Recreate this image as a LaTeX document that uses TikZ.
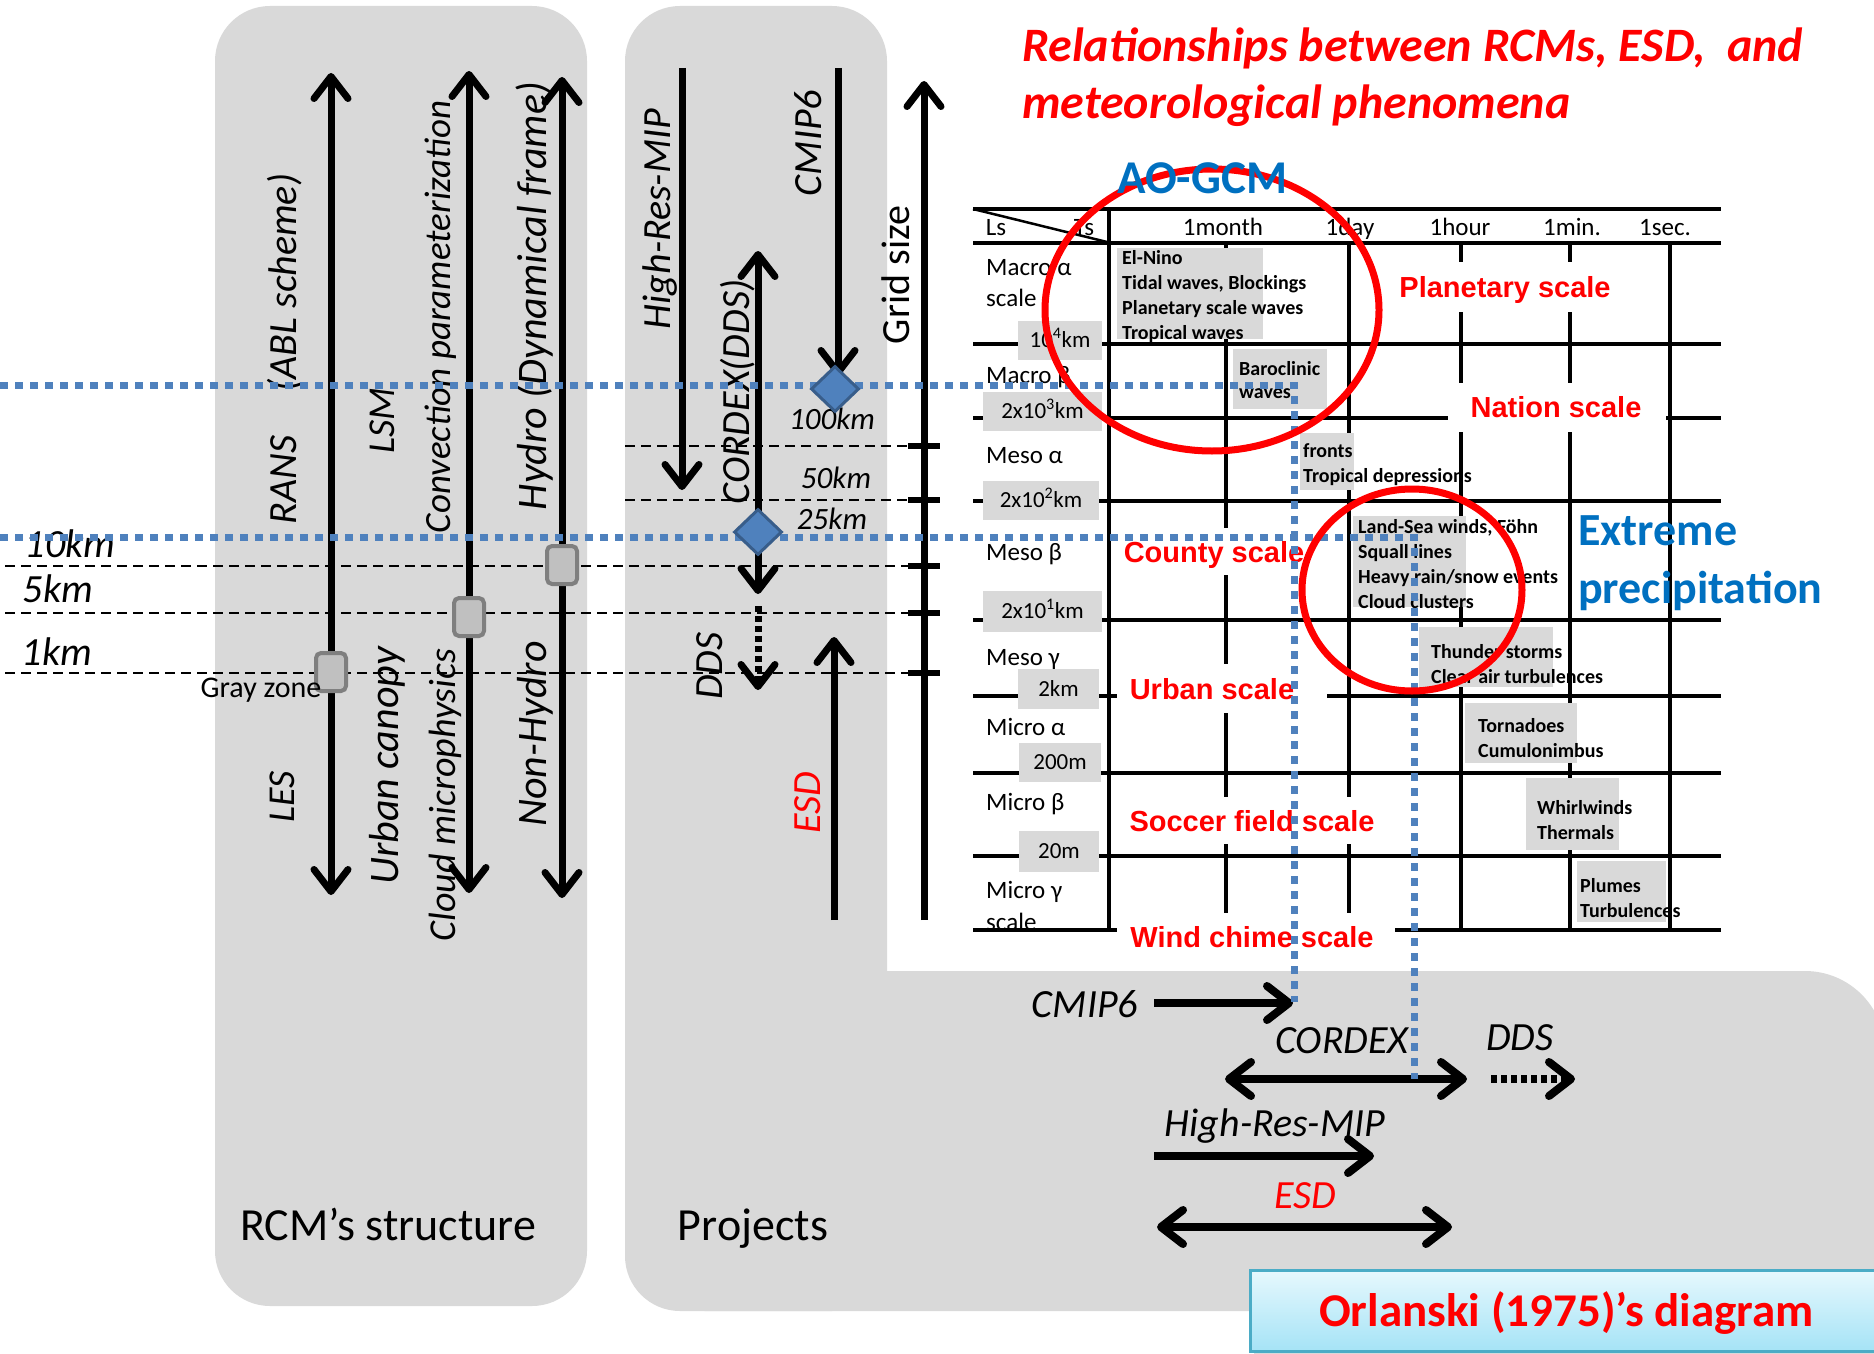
\documentclass[tikz,border=0pt]{standalone}
\usepackage{fontspec}
\setmainfont{Carlito}
\newfontfamily\arialfont{Liberation Sans}
\usetikzlibrary{arrows.meta,shapes.geometric,shadows}

\definecolor{panelgray}{HTML}{D9D9D9}
\definecolor{dotblue}{HTML}{4F81BD}
\definecolor{gemedge}{HTML}{385D8A}
\definecolor{gcmblue}{HTML}{0070C0}
\definecolor{zoneedge}{HTML}{7F7F7F}
\definecolor{zonefill}{HTML}{C0C0C0}
\definecolor{orlaedge}{HTML}{4BACC6}
\definecolor{orlatop}{HTML}{E6F8FD}
\definecolor{orlabot}{HTML}{A5E3F6}

\tikzset{
  txt/.style 2 args={font=\fontsize{#1}{#1}\selectfont#2, inner sep=0pt, text height=0.65*#1pt, text depth=0pt},
  rcmlab/.style={txt={#1}{\itshape}, rotate=90},
  rcmlab/.default=38,
  prjlab/.style={txt={40}{\itshape}, rotate=90},
  kmlab/.style={txt={40}{\itshape}},
  reslab/.style={txt={31}{\itshape}},
  hdr/.style={txt={25}{}},
  rowlab/.style={txt={25}{}, anchor=west},
  kmbox/.style={txt={23}{}, fill=panelgray},
  scalelab/.style={txt={29}{\arialfont\bfseries}, text=red},
  event/.style={font=\fontsize{20}{25}\selectfont\bfseries, align=left, anchor=north west, inner sep=0pt},
  level/.style={line width=2pt, dash pattern=on 10pt off 6pt},
  bigarr/.style={line width=7pt},
  tline/.style={line width=4.5pt},
  blueline/.style={dotblue, line width=7pt, dash pattern=on 8pt off 7pt},
  zone/.style={draw=zoneedge, fill=zonefill, line width=4pt, rounded corners=5pt, minimum width=30pt, minimum height=38pt, inner sep=0pt},
  gem/.style={diamond, draw=gemedge, fill=dotblue, line width=3pt, minimum width=48pt, minimum height=46pt, inner sep=0pt},
}

\begin{document}
\begin{tikzpicture}[x=1pt, y=-1pt, >={Straight Barb[length=22pt,width=34pt,round]}]
\useasboundingbox (0,0) rectangle (1874,1354);
\clip (0,0) rectangle (1874,1354);

%panels
\fill[panelgray, rounded corners=55pt] (215,6) rectangle (587,1306);
\fill[panelgray, rounded corners=55pt] (625,6) rectangle (887,1311);
\fill[panelgray, rounded corners=80pt] (625,971) rectangle (1885,1311);

%resolution levels
\foreach \y in {566,613,673}
  \draw[level] (5,\y) -- (912,\y);
\foreach \y in {446,500}
  \draw[level] (625,\y) -- (912,\y);

%RCM's structure
\draw[bigarr, <->] (331,73) -- (331,895);
\draw[bigarr, <->] (469,71) -- (469,893);
\draw[bigarr, <->] (562,77) -- (562,898);
\node[zone] (zles) at (331,672) {};
\node[zone] (zconv) at (469,617) {};
\node[zone] (zhydro) at (562,565) {};

\node[rcmlab=40] (rans) at (283,349) {RANS\hspace{1.1em}(ABL scheme)};
\node[rcmlab] (lsm) at (382,421) {LSM};
\node[rcmlab=37] (conv) at (438,317) {Convection parameterization};
\node[rcmlab=42] (hydro) at (533,296) {Hydro (Dynamical frame)};
\node[rcmlab] (les) at (282,797) {LES};
\node[rcmlab=42] (urban) at (385,766) {Urban canopy};
\node[rcmlab] (micro) at (443,795) {Cloud microphysics};
\node[rcmlab=42] (nonhydro) at (533,734) {Non-Hydro};
\node[txt={30}{}] (grayzone) at (261,688) {Gray zone};

\node[kmlab] (km10) at (70,544) {10km};
\node[kmlab] (km5) at (58,589) {5km};
\node[kmlab] (km1) at (57,652) {1km};
\node[txt={46}{}] (rcm) at (388,1226) {RCM's structure};

%projects
\draw[bigarr, ->] (682,68) -- (682,490);
\draw[bigarr, ->] (838,68) -- (838,376);
\draw[bigarr, <->] (758,251) -- (758,594);
\draw[bigarr, ->, dash pattern=on 6pt off 4pt] (758,606) -- (758,690);
\draw[bigarr, ->] (834,920) -- (834,637);
\node[prjlab] (hrmip) at (657,219) {High-Res-MIP};
\node[prjlab] (cmip) at (808,143) {CMIP6};
\node[prjlab] (cordex) at (736,392) {CORDEX(DDS)};
\node[prjlab] (dds) at (709,666) {DDS};
\node[prjlab, text=red] (esd) at (807,803) {ESD};
\node[reslab] (res100) at (832,419) {100km};
\node[reslab] (res50) at (836,478) {50km};
\node[reslab] (res25) at (832,519) {25km};
\node[txt={46}{}] (projects) at (753,1226) {Projects};

%grid size axis
\draw[bigarr, ->] (924,920) -- (924,81);
\foreach \y in {446,500,566,613,673}
  \draw[line width=6pt] (908,\y) -- (940,\y);
\node[txt={40}{}, rotate=90] (grid) at (896,275) {Grid size};

%Orlanski table
\foreach \y/\a/\b in {209/973/1721, 243/973/1721, 344/973/1721, 418/973/1448, 418/1666/1721,
    501/973/1721, 620/973/1721, 696/973/1117, 696/1327/1721, 773/973/1721, 856/973/1721,
    930/973/1117, 930/1395/1721}
  \draw[tline] (\a,\y) -- (\b,\y);
\foreach \x/\a/\b in {1109/209/930, 1226/243/528, 1226/575/664, 1226/713/797, 1226/844/913,
    1349/243/797, 1349/844/913, 1461/243/262, 1461/312/383, 1461/432/930,
    1570/243/262, 1570/312/383, 1570/432/930, 1670/243/930}
  \draw[tline] (\x,\a) -- (\x,\b);
\draw[line width=2.5pt] (973,209) -- (1107,242);

\node[hdr] (ls) at (996,227) {Ls};
\node[hdr] (ts) at (1084,227) {Ts};
\node[hdr] (month) at (1223,227) {1month};
\node[hdr] (day) at (1350,227) {1day};
\node[hdr] (hour) at (1460,227) {1hour};
\node[hdr] (minute) at (1572,227) {1min.};
\node[hdr] (second) at (1665,227) {1sec.};

\node[rowlab] (macroa) at (986,267) {Macro α};
\node[rowlab] (macroas) at (986,298) {scale};
\node[rowlab] (macrob) at (986,375) {Macro β};
\node[rowlab] (mesoa) at (986,455) {Meso α};
\node[rowlab] (mesob) at (986,552) {Meso β};
\node[rowlab] (mesog) at (986,657) {Meso γ};
\node[rowlab] (microa) at (986,727) {Micro α};
\node[rowlab] (microb) at (986,802) {Micro β};
\node[rowlab] (microg) at (986,890) {Micro γ};
\node[rowlab] (microgs) at (986,922) {scale};

\node[kmbox, minimum width=84pt, minimum height=39pt] (l1) at (1060,340.5) {10\textsuperscript{4}km};
\node[kmbox, minimum width=119pt, minimum height=39pt] (l2) at (1042.5,411.5) {2x10\textsuperscript{3}km};
\node[kmbox, minimum width=116pt, minimum height=39pt] (l3) at (1041,500.5) {2x10\textsuperscript{2}km};
\node[kmbox, minimum width=119pt, minimum height=41pt] (l4) at (1042.5,611.5) {2x10\textsuperscript{1}km};
\node[kmbox, minimum width=81pt, minimum height=40pt] (l5) at (1058.5,689) {2km};
\node[kmbox, minimum width=82pt, minimum height=39pt] (l6) at (1060,762.5) {200m};
\node[kmbox, minimum width=80pt, minimum height=41pt] (l7) at (1059,851.5) {20m};

%phenomena
\fill[panelgray] (1117,248) rectangle (1263,339);
\fill[panelgray] (1233,349) rectangle (1327,409);
\fill[panelgray] (1300,433) rectangle (1354,490);
\fill[panelgray] (1353,516) rectangle (1466,607);
\fill[panelgray] (1419,627) rectangle (1553,687);
\fill[panelgray] (1465,703) rectangle (1577,763);
\fill[panelgray] (1526,778) rectangle (1619,850);
\fill[panelgray] (1577,861) rectangle (1666,922);
\node[event] (elnino) at (1122,246.5) {\strut El-Nino\\Tidal waves, Blockings\\Planetary scale waves\\Tropical waves};
\node[event, font=\fontsize{20}{23}\selectfont\bfseries] (baro) at (1239,359) {\strut Baroclinic\\waves};
\node[event] (fronts) at (1303,439.5) {\strut fronts\\Tropical depressions};
\node[event] (landsea) at (1358,515.5) {\strut Land-Sea winds, Föhn\\Squall lines\\Heavy rain/snow events\\Cloud clusters};
\node[event] (thunder) at (1431,640.5) {\strut Thunder storms\\Clear air turbulences};
\node[event] (tornado) at (1478,714.5) {\strut Tornadoes\\Cumulonimbus};
\node[event] (whirl) at (1537,796.5) {\strut Whirlwinds\\Thermals};
\node[event] (plumes) at (1580,874.5) {\strut Plumes\\Turbulences};

\node[scalelab] (planetary) at (1505,288) {Planetary scale};
\node[scalelab] (nation) at (1556,408) {Nation scale};
\node[scalelab] (county) at (1214,553) {County scale};
\node[scalelab] (urbansc) at (1212,690) {Urban scale};
\node[scalelab] (soccer) at (1252,822) {Soccer field scale};
\node[scalelab] (chime) at (1252,938) {Wind chime scale};

%bottom ranges
\node[kmlab] (bcmip) at (1085,1004) {CMIP6};
\node[kmlab] (bcordex) at (1342,1040) {CORDEX};
\node[kmlab] (bdds) at (1520,1037) {DDS};
\node[kmlab] (bhrmip) at (1275,1123) {High-Res-MIP};
\node[kmlab, text=red] (besd) at (1305,1195) {ESD};
\draw[bigarr, line width=8pt, ->] (1154,1003) -- (1293,1003);
\draw[bigarr, line width=8pt, <->] (1225,1079) -- (1467,1079);
\draw[bigarr, line width=8pt, ->, dash pattern=on 6pt off 4pt] (1491,1079) -- (1575,1079);
\draw[bigarr, line width=8pt, ->] (1154,1156) -- (1374,1156);
\draw[bigarr, line width=8pt, <->] (1157,1227) -- (1452,1227);

%model resolutions
\draw[blueline] (0,385) -- (1294,385) -- (1294,1002);
\draw[blueline] (0,537) -- (1414,537) -- (1414,1079);
\node[gem] (gcmip) at (835,389) {};
\node[gem] (gcordex) at (758,532) {};

%circled regions
\draw[red, line width=7pt] (1212,310) ellipse [x radius=167pt, y radius=141pt];
\draw[red, line width=7pt] (1412,590) ellipse [x radius=110pt, y radius=101pt];
\node[anchor=base west, inner sep=0pt, font=\fontsize{47}{47}\selectfont\bfseries, text=gcmblue] (aogcm) at (1117,193) {AO-GCM};
\node[anchor=base west, inner sep=0pt, font=\fontsize{46}{46}\selectfont\bfseries, text=gcmblue] (extreme) at (1578,545) {Extreme};
\node[anchor=base west, inner sep=0pt, font=\fontsize{46}{46}\selectfont\bfseries, text=gcmblue] (precip) at (1578,603) {precipitation};

%title
\node[anchor=base west, inner sep=0pt, font=\fontsize{48}{48}\selectfont\bfseries\itshape, text=red] (title1) at (1022,62) {Relationships between RCMs, ESD,\ \ and};
\node[anchor=base west, inner sep=0pt, font=\fontsize{48}{48}\selectfont\bfseries\itshape, text=red] (title2) at (1022,118) {meteorological phenomena};

\node[anchor=north west, minimum width=632pt, minimum height=81pt, top color=orlatop, bottom color=orlabot,
  draw=orlaedge, line width=3pt, drop shadow={opacity=0.3, shadow xshift=3pt, shadow yshift=-3pt},
  txt={47}{\bfseries}, text=red] (orlanski) at (1249,1269) {Orlanski (1975)'s diagram};
\end{tikzpicture}
\end{document}
